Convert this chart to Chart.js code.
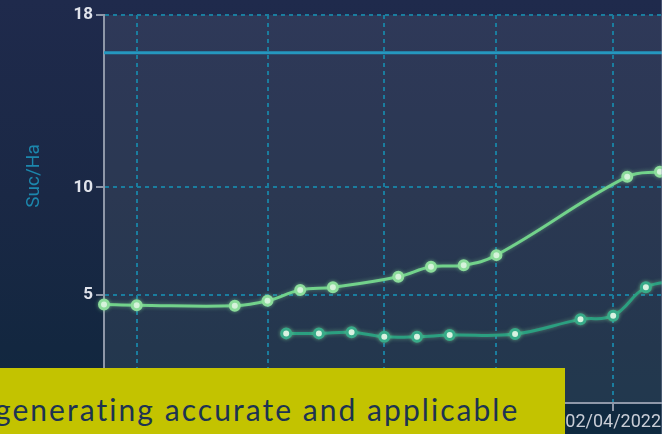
<!DOCTYPE html>
<html>
<head>
<meta charset="utf-8">
<title>Suc/Ha</title>
<script src="https://cdn.jsdelivr.net/npm/chart.js@4.4.1/dist/chart.umd.min.js"></script>
<style>
  html, body { margin: 0; padding: 0; width: 662px; height: 434px; overflow: hidden; }
  body {
    position: relative;
    background: linear-gradient(180deg, #1f2a4c 0%, #1a2845 45%, #132740 80%, #0f2a40 100%);
    font-family: Roboto, sans-serif;
  }
  #wrap { position: absolute; left: 0; top: 0; width: 758px; height: 434px; }
  #edge { position: absolute; left: 661px; top: 0; width: 1px; height: 434px; background: rgba(150, 160, 185, .35); }
  #banner {
    position: absolute; left: 0; top: 368px; width: 565px; height: 66px;
    background: #c3c300; overflow: hidden;
  }
  #banner span {
    position: absolute; left: -5px; top: 26px;
    font-family: Lato, sans-serif; font-size: 30px; line-height: 1;
    color: #1d3352; white-space: nowrap;
  }
</style>
</head>
<body>
<div id="wrap"><canvas id="sucha"></canvas></div>
<div id="edge"></div>
<div id="banner"><span id="bannerText">generating accurate and applicable</span></div>
<script>
// weekly counts (dd/mm/yyyy)
var startDate = '14/12/2021';
var endDate = '03/05/2022';

var s1Dates = ['14/12/2021', '21/12/2021', '11/01/2022', '18/01/2022', '25/01/2022', '01/02/2022',
  '15/02/2022', '22/02/2022', '01/03/2022', '08/03/2022', '05/04/2022', '12/04/2022', '19/04/2022'];
var s1Values = [4.57, 4.54, 4.51, 4.74, 5.24, 5.37, 5.86, 6.32, 6.39, 6.86, 10.5, 10.73, 10.9];

var s2Dates = ['22/01/2022', '29/01/2022', '05/02/2022', '12/02/2022', '19/02/2022', '26/02/2022',
  '12/03/2022', '26/03/2022', '02/04/2022', '09/04/2022', '16/04/2022'];
var s2Values = [3.23, 3.23, 3.28, 3.07, 3.07, 3.15, 3.2, 3.88, 4.05, 5.37, 5.65];

var limitValue = 16.25;

var tickDates = ['21/12/2021', '18/01/2022', '12/02/2022', '08/03/2022', '02/04/2022'];
var yTicks = [0, 5, 10, 18];

function toTime(str) {
  var p = str.split('/');
  return Date.UTC(+p[2], +p[1] - 1, +p[0]);
}
var t0 = toTime(startDate);
function toDay(str) {
  return (toTime(str) - t0) / 86400000;
}
function toLabel(day) {
  var d = new Date(t0 + day * 86400000);
  var dd = ('0' + d.getUTCDate()).slice(-2);
  var mm = ('0' + (d.getUTCMonth() + 1)).slice(-2);
  return dd + '/' + mm + '/' + d.getUTCFullYear();
}
function points(dates, values) {
  return dates.map(function (d, i) { return { x: toDay(d), y: values[i] }; });
}

// stretch the banner line out to its full width
(function () {
  var el = document.getElementById('bannerText');
  var w = el.getBoundingClientRect().width;
  var n = el.textContent.length;
  el.style.letterSpacing = ((523 - w) / (n - 1)).toFixed(2) + 'px';
})();

var areaFill = {
  id: 'areaFill',
  beforeDraw: function (chart) {
    var a = chart.chartArea, ctx = chart.ctx;
    ctx.save();
    ctx.fillStyle = 'rgba(255,255,255,0.075)';
    ctx.fillRect(a.left, a.top, a.right - a.left, a.bottom - a.top);
    ctx.restore();
  }
};

// soft halo round the lines and markers
var glow = {
  id: 'glow',
  beforeDatasetDraw: function (chart, args) {
    if (args.index === 0) return;
    chart.ctx.save();
    chart.ctx.shadowColor = 'rgba(140, 230, 160, 0.45)';
    chart.ctx.shadowBlur = 4;
  },
  afterDatasetDraw: function (chart, args) {
    if (args.index === 0) return;
    chart.ctx.restore();
  }
};

// y axis title sits above the middle of the axis
var axisTitle = {
  id: 'axisTitle',
  afterDraw: function (chart) {
    var ctx = chart.ctx;
    ctx.save();
    ctx.translate(34, 176);
    ctx.rotate(-Math.PI / 2);
    ctx.font = '19px Roboto';
    ctx.fillStyle = '#1c87ad';
    ctx.textAlign = 'center';
    ctx.textBaseline = 'middle';
    ctx.fillText('Suc/Ha', 0, 0);
    ctx.restore();
  }
};

var config = {
  type: 'line',
  plugins: [areaFill, glow, axisTitle],
  data: {
    datasets: [{
      data: [{ x: 0, y: limitValue }, { x: toDay(endDate), y: limitValue }],
      borderColor: '#2597bf',
      borderWidth: 3,
      pointRadius: 0,
      tension: 0
    }, {
      data: points(s1Dates, s1Values),
      borderColor: '#72d28b',
      borderWidth: 3,
      pointRadius: 4.5,
      pointBorderWidth: 3,
      pointBorderColor: '#8cdc9b',
      pointBackgroundColor: '#e8f6ea',
      tension: 0.4
    }, {
      data: points(s2Dates, s2Values),
      borderColor: '#2b9f80',
      borderWidth: 3,
      pointRadius: 4.5,
      pointBorderWidth: 3,
      pointBorderColor: '#38ab89',
      pointBackgroundColor: '#ecf6f2',
      tension: 0.4
    }]
  },
  options: {
    responsive: false,
    animation: false,
    clip: false,
    layout: { autoPadding: false, padding: { top: 15, left: 0, right: 0, bottom: 0 } },
    plugins: {
      legend: { display: false },
      tooltip: { enabled: false }
    },
    scales: {
      x: {
        type: 'linear',
        min: 0,
        max: toDay(endDate),
        afterBuildTicks: function (scale) {
          scale.ticks = tickDates.map(function (d) { return { value: toDay(d) }; });
        },
        afterFit: function (scale) { scale.height = 31; },
        grid: {
          color: '#1a7d9f',
          lineWidth: 2,
          tickColor: '#8e97a8',
          tickLength: 8,
          tickWidth: 2
        },
        border: { color: '#8e97a8', width: 2, dash: [4, 4] },
        ticks: {
          autoSkip: false,
          maxRotation: 0,
          padding: 1,
          color: '#c9cdd6',
          font: { family: 'Roboto', size: 18 },
          callback: function (value) { return toLabel(value); }
        }
      },
      y: {
        min: 0,
        max: 18,
        afterBuildTicks: function (scale) {
          scale.ticks = yTicks.map(function (v) { return { value: v }; });
        },
        afterFit: function (scale) { scale.width = 104; },
        grid: {
          color: '#1a7d9f',
          lineWidth: 2,
          tickColor: '#8e97a8',
          tickLength: 8,
          tickWidth: 2
        },
        border: { color: '#8e97a8', width: 2, dash: [4, 4] },
        ticks: {
          padding: 3,
          color: '#e1e4ec',
          font: { family: 'Roboto', size: 17, weight: 'bold' }
        }
      }
    }
  }
};

var canvas = document.getElementById('sucha');
canvas.width = 758;
canvas.height = 434;
new Chart(canvas.getContext('2d'), config);
</script>
</body>
</html>
